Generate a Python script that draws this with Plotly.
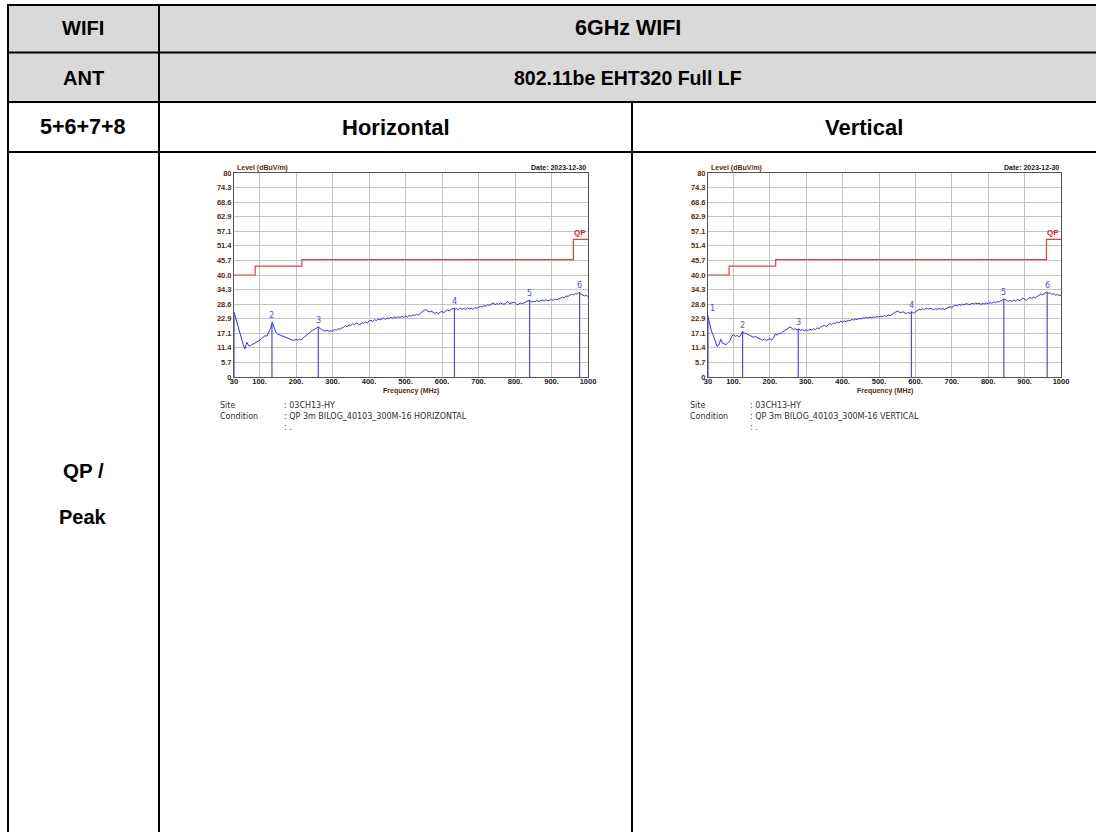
import plotly.graph_objects as go

W, H = 1096, 832

# ---------------- data ----------------
freq_start, freq_stop, freq_step = 30, 1000, 5
freq = list(range(freq_start, freq_stop + 1, freq_step))

level_h = [
    25.5, 22.8, 20.0, 17.3, 15.0, 12.8, 11.0, 13.6, 12.4, 12.2,
    12.9, 13.0, 13.6, 13.9, 14.3, 15.0, 15.6, 16.2, 16.0, 17.4,
    19.0, 21.3, 19.6, 17.5, 16.8, 16.5, 16.2, 15.9, 15.5, 15.3,
    14.9, 14.6, 14.5, 14.4, 14.7, 14.4, 14.9, 14.6, 15.5, 15.9,
    16.6, 17.2, 17.8, 18.3, 18.6, 19.0, 19.6, 19.2, 18.5, 18.3,
    18.0, 18.4, 17.9, 18.2, 18.0, 18.6, 18.3, 18.9, 18.7, 19.2,
    19.4, 20.1, 19.7, 20.4, 20.2, 20.9, 20.5, 21.2, 20.7, 20.4,
    21.3, 21.0, 21.6, 21.2, 21.9, 22.2, 21.8, 22.5, 22.1, 22.8,
    22.4, 22.7, 23.1, 22.6, 23.2, 22.9, 23.4, 23.0, 23.5, 23.2,
    23.6, 23.3, 23.8, 23.4, 23.9, 23.5, 24.2, 23.8, 24.4, 24.0,
    24.6, 24.3, 25.0, 25.6, 26.1, 26.4, 25.8, 25.5, 25.9, 25.2,
    24.9, 25.3, 24.8, 25.4, 25.7, 25.2, 26.0, 26.3, 25.9, 26.5,
    26.9, 26.6, 26.8, 26.4, 27.0, 26.6, 26.9, 26.5, 27.1, 26.7,
    26.9, 26.5, 27.2, 27.0, 27.4, 27.7, 27.5, 28.0, 27.8, 28.3,
    28.1, 28.6, 29.0, 28.4, 28.8, 28.5, 29.1, 28.7, 28.5, 29.0,
    29.6, 28.7, 28.9, 29.3, 29.1, 28.3, 28.6, 29.0, 28.7, 29.2,
    29.5, 29.8, 30.1, 29.4, 29.7, 29.5, 30.0, 29.6, 29.9, 30.2,
    29.8, 30.3, 29.9, 30.1, 30.4, 30.0, 30.6, 30.3, 30.8, 31.0,
    31.3, 31.1, 31.8, 31.6, 32.1, 32.4, 32.2, 32.7, 32.5, 33.2,
    32.6, 32.2, 31.8, 32.0, 31.6,
]

level_v = [
    23.5, 20.2, 17.8, 16.0, 13.8, 12.0, 12.6, 14.8, 13.2, 13.0,
    12.7, 13.5, 14.1, 15.8, 16.7, 15.9, 16.3, 15.7, 16.5, 17.8,
    17.2, 17.0, 16.6, 16.3, 16.0, 15.6, 15.9, 15.4, 15.1, 14.8,
    14.4, 14.9, 14.3, 14.7, 15.0, 14.6, 15.2, 16.9, 16.4, 17.2,
    17.0, 17.6, 18.1, 18.4, 19.0, 19.6, 19.2, 18.6, 18.9, 18.4,
    18.8, 18.3, 18.6, 18.1, 18.5, 18.2, 18.7, 18.4, 18.9, 18.6,
    19.3, 19.0, 19.6, 19.9, 20.3, 19.8, 20.6, 21.0, 20.5, 21.2,
    20.9, 21.5, 21.2, 21.8, 21.5, 22.0, 21.7, 22.3, 22.0, 22.6,
    22.3, 22.8, 22.5, 23.0, 22.7, 23.2, 23.0, 23.4, 23.1, 23.5,
    23.2, 23.6, 23.4, 23.8, 23.5, 23.9, 23.6, 24.1, 23.8, 24.3,
    24.0, 24.6, 25.0, 25.4, 25.8, 25.5, 25.2, 25.6, 25.1, 24.8,
    25.3, 24.9, 25.6, 25.0, 25.5, 26.1, 26.6, 26.3, 26.8, 26.5,
    27.0, 26.6, 26.9, 26.7, 26.4, 26.8, 26.5, 26.9, 26.6, 26.8,
    26.5, 26.9, 27.1, 27.5, 27.3, 27.8, 28.2, 27.9, 28.5, 28.1,
    28.6, 28.3, 28.8, 28.5, 28.4, 28.9, 28.6, 29.0, 28.7, 28.9,
    28.5, 28.8, 28.6, 29.0, 28.7, 29.2, 28.9, 29.4, 29.1, 29.6,
    29.4, 29.9, 30.2, 30.6, 30.1, 29.7, 30.0, 29.6, 30.2, 29.8,
    30.4, 30.0, 30.3, 31.0, 30.5, 30.1, 30.7, 31.2, 30.8, 31.4,
    31.1, 31.7, 32.2, 32.6, 32.3, 32.9, 33.3, 32.8, 33.0, 32.4,
    32.7, 32.1, 32.4, 31.9, 32.1,
]

limit_freq = [30, 88, 88, 216, 216, 960, 960, 1000]
limit_level = [40.0, 40.0, 43.5, 43.5, 46.0, 46.0, 54.0, 54.0]

mk_freq_h = [30, 134, 261, 634, 840, 977]
mk_level_h = [25.0, 21.5, 19.7, 27.0, 30.2, 33.3]
mk_label_h = ["", "2", "3", "4", "5", "6"]

mk_freq_v = [30, 125, 278, 589, 843, 962]
mk_level_v = [24.3, 17.8, 18.9, 25.6, 30.4, 33.3]
mk_label_v = ["1", "2", "3", "4", "5", "6"]

x_tickvals = [30, 100, 200, 300, 400, 500, 600, 700, 800, 900, 1000]
x_ticktext = ["30", "100.", "200.", "300.", "400.", "500.", "600.", "700.", "800.", "900.", "1000"]
y_ticktext = ["0", "5.7", "11.4", "17.1", "22.9", "28.6", "34.3", "40.0",
              "45.7", "51.4", "57.1", "62.9", "68.6", "74.3", "80"]

table_header = [("WIFI", "6GHz WIFI"), ("ANT", "802.11be EHT320 Full LF")]
row3 = ("5+6+7+8", "Horizontal", "Vertical")
row4_label = ["QP /", "Peak"]
date_text = "Date: 2023-12-30"
site_text = ": 03CH13-HY"
cond_h = ": QP 3m BILOG_40103_300M-16 HORIZONTAL"
cond_v = ": QP 3m BILOG_40103_300M-16 VERTICAL"

# ---------------- helpers ----------------
def px(x):
    return x / W

def py(y):
    return 1 - y / H

fig = go.Figure()

TRACE_BLUE = "#3030ff"
MARK_BLUE = "#4a4aff"
LIMIT_RED = "#e84040"
TICK_BROWN = "#5a2a10"

charts = [
    dict(ax="", left=234, right=588, freqs=freq, levels=level_h,
         mf=mk_freq_h, ml=mk_level_h, mlab=mk_label_h, cond=cond_h, text_left=218, colon_left=282),
    dict(ax="2", left=708, right=1061, freqs=freq, levels=level_v,
         mf=mk_freq_v, ml=mk_level_v, mlab=mk_label_v, cond=cond_v, text_left=688, colon_left=748),
]
top_px, bot_px = 173, 377

annotations = []
shapes = []

for c in charts:
    xa = "x" + c["ax"]
    ya = "y" + c["ax"]
    fig.add_trace(go.Scatter(x=limit_freq, y=limit_level, mode="lines",
                             line=dict(color=LIMIT_RED, width=1.2),
                             xaxis=xa, yaxis=ya, hoverinfo="skip", showlegend=False))
    mx, my = [], []
    for f, l in zip(c["mf"], c["ml"]):
        mx += [f, f, None]
        my += [0, l, None]
    fig.add_trace(go.Scatter(x=mx, y=my, mode="lines",
                             line=dict(color=MARK_BLUE, width=1.2),
                             xaxis=xa, yaxis=ya, hoverinfo="skip", showlegend=False))
    fig.add_trace(go.Scatter(x=c["freqs"], y=c["levels"], mode="lines",
                             line=dict(color=TRACE_BLUE, width=1),
                             xaxis=xa, yaxis=ya, showlegend=False))
    for f, l, t in zip(c["mf"], c["ml"], c["mlab"]):
        if t:
            annotations.append(dict(x=f, y=l, xref=xa, yref=ya, text=t, showarrow=False,
                                    yanchor="bottom", xanchor="center" if f > 40 else "left",
                                    font=dict(family="DejaVu Sans", size=8, color=MARK_BLUE)))
    annotations.append(dict(x=1000, y=54, xref=xa, yref=ya, text="QP", showarrow=False,
                            xanchor="right", yanchor="bottom",
                            font=dict(family="Liberation Sans", size=8, color="#e02020", weight="bold")))
    annotations.append(dict(x=px(c["left"] + 1), y=py(168), xref="paper", yref="paper",
                            text="Level (dBuV/m)", showarrow=False, xanchor="left", yanchor="middle",
                            font=dict(family="Liberation Sans", size=7, color=TICK_BROWN, weight="bold")))
    annotations.append(dict(x=px(c["right"]), y=py(167), xref="paper", yref="paper",
                            text=date_text, showarrow=False, xanchor="right", yanchor="middle",
                            font=dict(family="Liberation Sans", size=7, color="#202020", weight="bold")))
    annotations.append(dict(x=px((c["left"] + c["right"]) / 2), y=py(391), xref="paper", yref="paper",
                            text="Frequency (MHz)", showarrow=False, xanchor="center", yanchor="middle",
                            font=dict(family="Liberation Sans", size=7, color=TICK_BROWN, weight="bold")))
    for label, val, yy in [("Site", site_text, 405), ("Condition", c["cond"], 416), ("", ": .", 428)]:
        if label:
            annotations.append(dict(x=px(c["text_left"]), y=py(yy), xref="paper", yref="paper",
                                    text=label, showarrow=False, xanchor="left", yanchor="middle",
                                    font=dict(family="DejaVu Sans", size=8, color="#303030")))
        annotations.append(dict(x=px(c["colon_left"]), y=py(yy), xref="paper", yref="paper",
                                text=val, showarrow=False, xanchor="left", yanchor="middle",
                                font=dict(family="DejaVu Sans", size=8, color="#303030")))

    axis_common = dict(showgrid=True, gridcolor="#c4c4c4", gridwidth=1,
                       showline=True, linecolor="#555555", linewidth=1, mirror=True,
                       zeroline=False, ticks="", automargin=False)
    fig.layout["xaxis" + c["ax"]] = dict(
        domain=[px(c["left"]), px(c["right"])], range=[30, 1000], anchor=ya,
        tickmode="array", tickvals=x_tickvals, ticktext=x_ticktext,
        tickfont=dict(family="Liberation Sans", size=7.5, color="#202020", weight="bold"),
        ticklabelstandoff=-3, **axis_common)
    fig.layout["yaxis" + c["ax"]] = dict(
        domain=[py(bot_px), py(top_px)], range=[0, 80], anchor=xa,
        tickmode="array", tickvals=[80 * i / 14 for i in range(15)], ticktext=y_ticktext,
        tickfont=dict(family="Liberation Sans", size=7.5, color=TICK_BROWN, weight="bold"),
        ticklabelstandoff=0, **axis_common)

# ---------------- table ----------------
LINE = dict(color="black", width=2)
shapes.append(dict(type="rect", xref="paper", yref="paper", x0=px(8), x1=px(W + 4), y0=py(102), y1=py(5),
                   fillcolor="#d9d9d9", line=dict(width=0), layer="below"))
for yy in [5, 52.5, 102, 152]:
    shapes.append(dict(type="line", xref="paper", yref="paper", x0=px(7), x1=px(W + 4), y0=py(yy), y1=py(yy), line=LINE))
shapes.append(dict(type="line", xref="paper", yref="paper", x0=px(8), x1=px(8), y0=py(4), y1=py(H + 4), line=LINE))
shapes.append(dict(type="line", xref="paper", yref="paper", x0=px(159), x1=px(159), y0=py(4), y1=py(H + 4), line=LINE))
shapes.append(dict(type="line", xref="paper", yref="paper", x0=px(632), x1=px(632), y0=py(102), y1=py(H + 4), line=LINE))

def hfont(size):
    return dict(family="Liberation Sans", size=size, color="black", weight="bold")

cells = [
    (table_header[0][0], 83, 28, 20), (table_header[0][1], 628, 28, 21.5),
    (table_header[1][0], 83, 78, 20), (table_header[1][1], 628, 78, 19.5),
    (row3[0], 83, 127, 21.5), (row3[1], 396, 127, 22), (row3[2], 864, 127, 22),
    (row4_label[0], 83, 470, 20.5), (row4_label[1], 83, 517, 20),
]
for t, x, y, s in cells:
    annotations.append(dict(x=px(x), y=py(y), xref="paper", yref="paper", text=t, showarrow=False,
                            xanchor="center", yanchor="middle", font=hfont(s)))

fig.update_layout(width=W, height=H,
                  margin=dict(l=0, r=0, t=0, b=0, pad=0, autoexpand=False),
                  paper_bgcolor="white", plot_bgcolor="white",
                  shapes=shapes, annotations=annotations, showlegend=False)

fig.write_html("out.html", config={"displayModeBar": False},
               post_script="document.body.style.margin='0';document.body.style.overflow='hidden';")
